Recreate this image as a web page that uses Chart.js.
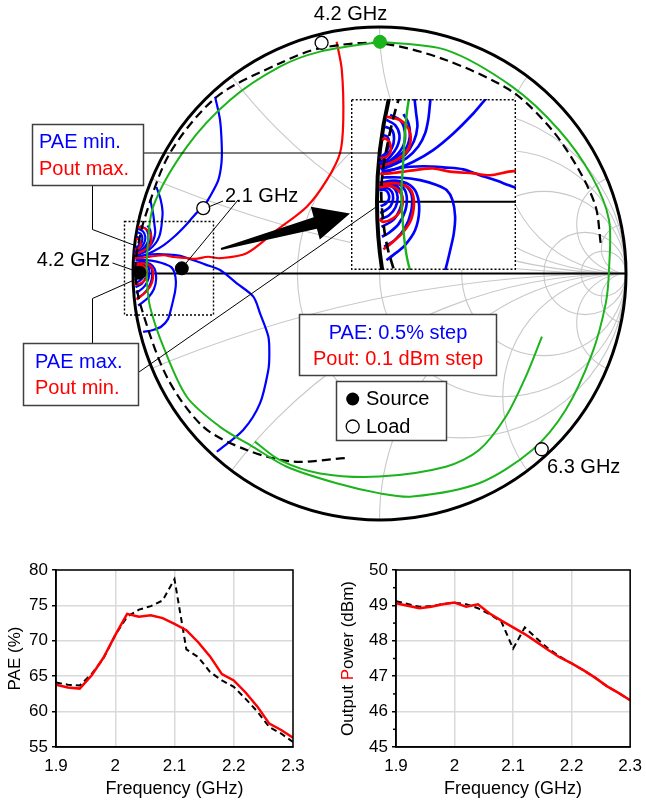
<!DOCTYPE html>
<html>
<head>
<meta charset="utf-8">
<title>Load-pull contours and frequency sweep</title>
<script src="https://cdn.jsdelivr.net/npm/chart.js@4.4.1/dist/chart.umd.min.js"></script>
<style>
  html, body { margin: 0; padding: 0; background: #fff; }
  #page { position: relative; width: 646px; height: 805px; overflow: hidden; }
  #page canvas { position: absolute; }
</style>
</head>
<body>
<div id="page">
  <canvas id="smithChart" width="646" height="540" style="left:0;top:0"></canvas>
  <canvas id="zoomChart" width="165" height="171" style="left:351px;top:99px"></canvas>
  <canvas id="paeChart" width="320" height="260" style="left:0;top:545px"></canvas>
  <canvas id="poutChart" width="326" height="260" style="left:320px;top:545px"></canvas>
</div>
<script>
// ── frequency sweeps (bottom plots) ──
const freqGHz   = [1.9, 1.92, 1.94, 1.96, 1.98, 2.0, 2.02, 2.04, 2.06, 2.08, 2.1, 2.12, 2.14, 2.16, 2.18, 2.2, 2.22, 2.24, 2.26, 2.28, 2.3];
const paeSolid  = [63.8, 63.4, 63.25, 65.1, 67.6, 70.8, 73.8, 73.4, 73.6, 73.2, 72.4, 71.5, 69.8, 67.8, 65.3, 64.4, 62.7, 60.7, 58.3, 57.4, 56.3];
const paeDashed = [64.1, 63.8, 63.7, 65.3, 67.5, 70.8, 73.4, 74.4, 74.9, 75.7, 78.7, 68.8, 67.7, 65.6, 64.4, 63.5, 61.8, 60.0, 57.8, 56.9, 55.7];
const poutSolid  = [49.06, 48.99, 48.92, 48.96, 49.03, 49.08, 48.96, 49.03, 48.77, 48.57, 48.38, 48.19, 47.97, 47.74, 47.53, 47.36, 47.17, 46.96, 46.72, 46.53, 46.32];
const poutDashed = [49.12, 49.04, 48.96, 48.98, 49.04, 49.08, 49.03, 48.92, 48.75, 48.54, 47.78, 48.38, 48.07, 47.78, 47.55, 47.36, 47.17, 46.96, 46.72, 46.53, 46.32];
const freqTicks = [1.9, 2.0, 2.1, 2.2, 2.3];
const paeTicks  = [55, 60, 65, 70, 75, 80];
const poutTicks = [45, 46, 47, 48, 49, 50];
const poutMinor = [45.5, 46.5, 47.5, 48.5, 49.5];

// ── Smith chart grid ──
const resistanceCircles = [0.5, 1, 2, 5, 10];
const reactanceArcs = [0.2, 0.5, 1, 2, 5, 10, -0.2, -0.5, -1, -2, -5, -10];

// ── trajectories, reflection coefficient [re, im] ──
const dashedTrajectory = [
  [0.897, 0.124], [0.877, 0.271], [0.809, 0.420], [0.700, 0.582], [0.538, 0.738], [0.269, 0.866],
  [0.002, 0.934], [-0.241, 0.914], [-0.404, 0.853], [-0.660, 0.717], [-0.850, 0.489], [-0.951, 0.230],
  [-0.985, 0.083], [-0.990, 0.0], [-0.972, -0.120], [-0.863, -0.419], [-0.716, -0.621], [-0.539, -0.716],
  [-0.351, -0.763], [-0.133, -0.748]
];
const greenLoop = [
  [0.002, 0.940], [0.269, 0.907], [0.538, 0.758], [0.728, 0.582], [0.862, 0.393], [0.931, 0.217],
  [0.931, 0.014], [0.918, -0.120], [0.863, -0.323], [0.755, -0.554], [0.620, -0.716], [0.404, -0.851],
  [0.133, -0.905], [0.002, -0.892], [-0.174, -0.851], [-0.376, -0.784], [-0.513, -0.703], [-0.647, -0.622],
  [-0.782, -0.500], [-0.877, -0.297], [-0.931, -0.135], [-0.944, -0.026], [-0.944, 0.055], [-0.918, 0.271],
  [-0.782, 0.514], [-0.606, 0.704], [-0.404, 0.839], [-0.241, 0.900], [0.002, 0.940]
];
const greenArc = [
  [-0.506, -0.682], [-0.404, -0.757], [-0.241, -0.811], [-0.002, -0.824], [0.269, -0.784],
  [0.404, -0.716], [0.512, -0.581], [0.593, -0.419], [0.659, -0.256]
];

// ── PAE contours (blue) ──
const paeUpper = [
  [[-0.905, 0.351], [-0.888, 0.300], [-0.880, 0.250], [-0.883, 0.208], [-0.886, 0.182], [-0.893, 0.152], [-0.908, 0.123], [-0.934, 0.097], [-0.964, 0.082], [-0.990, 0.071]],
  [[-0.930, 0.300], [-0.918, 0.240], [-0.913, 0.198], [-0.910, 0.167], [-0.918, 0.134], [-0.938, 0.104], [-0.967, 0.085], [-0.992, 0.072]],
  [[-0.941, 0.195], [-0.930, 0.175], [-0.927, 0.145], [-0.938, 0.115], [-0.964, 0.093], [-0.992, 0.074]],
  [[-0.971, 0.193], [-0.949, 0.182], [-0.938, 0.156], [-0.941, 0.126], [-0.960, 0.100], [-0.992, 0.077]],
  [[-0.979, 0.182], [-0.960, 0.171], [-0.950, 0.149], [-0.955, 0.123], [-0.971, 0.100], [-0.993, 0.079]],
  [[-0.982, 0.167], [-0.967, 0.160], [-0.962, 0.141], [-0.967, 0.119], [-0.982, 0.100], [-0.994, 0.084]],
  [[-0.986, 0.148], [-0.977, 0.145], [-0.973, 0.130], [-0.979, 0.111], [-0.993, 0.097]]
];
const paeFan = [
  [[-0.990, 0.067], [-0.956, 0.074], [-0.919, 0.089], [-0.875, 0.115], [-0.830, 0.152], [-0.785, 0.197], [-0.760, 0.226],
   [-0.738, 0.250], [-0.715, 0.270], [-0.688, 0.312], [-0.654, 0.379], [-0.641, 0.450], [-0.640, 0.520], [-0.647, 0.623], [-0.667, 0.717]],
  [[-0.990, 0.063], [-0.949, 0.075], [-0.897, 0.079], [-0.845, 0.076], [-0.808, 0.072], [-0.771, 0.059], [-0.734, 0.047], [-0.708, 0.037],
   [-0.647, 0.014], [-0.579, -0.040], [-0.512, -0.094], [-0.485, -0.161], [-0.451, -0.256], [-0.447, -0.330], [-0.451, -0.391],
   [-0.485, -0.527], [-0.553, -0.635], [-0.660, -0.723]],
  [[-0.990, 0.054], [-0.949, 0.054], [-0.904, 0.048], [-0.867, 0.037], [-0.845, 0.026], [-0.832, 0.004], [-0.826, -0.033],
   [-0.829, -0.071], [-0.837, -0.108], [-0.846, -0.145], [-0.858, -0.185], [-0.885, -0.215], [-0.919, -0.229], [-0.959, -0.237]]
];
const paeLower = [
  [[-0.995, 0.026], [-0.982, 0.026], [-0.975, 0.019], [-0.973, 0.007], [-0.980, -0.004], [-0.992, -0.010]],
  [[-0.995, 0.030], [-0.979, 0.031], [-0.967, 0.022], [-0.964, 0.007], [-0.970, -0.010], [-0.982, -0.020], [-0.993, -0.025]],
  [[-0.995, 0.033], [-0.975, 0.036], [-0.960, 0.028], [-0.954, 0.010], [-0.959, -0.013], [-0.973, -0.030], [-0.992, -0.039]],
  [[-0.995, 0.036], [-0.971, 0.039], [-0.953, 0.032], [-0.944, 0.011], [-0.949, -0.017], [-0.964, -0.041], [-0.990, -0.056]],
  [[-0.995, 0.038], [-0.967, 0.042], [-0.945, 0.035], [-0.934, 0.013], [-0.937, -0.020], [-0.952, -0.050], [-0.973, -0.069], [-0.989, -0.078]],
  [[-0.995, 0.040], [-0.964, 0.045], [-0.938, 0.037], [-0.923, 0.015], [-0.924, -0.022], [-0.938, -0.059], [-0.960, -0.085], [-0.984, -0.100]],
  [[-0.995, 0.042], [-0.960, 0.047], [-0.930, 0.039], [-0.912, 0.019], [-0.906, -0.019], [-0.915, -0.063], [-0.938, -0.097], [-0.964, -0.119], [-0.979, -0.130]]
];

// ── Pout contours (red) ──
const poutContours = [
  [[-0.979, 0.189], [-0.949, 0.182], [-0.930, 0.163], [-0.925, 0.137], [-0.934, 0.111], [-0.960, 0.091], [-0.993, 0.078]],
  [[-0.988, 0.138], [-0.982, 0.141], [-0.971, 0.130], [-0.970, 0.111], [-0.979, 0.100], [-0.992, 0.097]],
  [[-0.993, 0.062], [-0.971, 0.063], [-0.941, 0.067], [-0.912, 0.071], [-0.875, 0.074], [-0.837, 0.067], [-0.785, 0.063],
   [-0.748, 0.059], [-0.696, 0.068], [-0.647, 0.062], [-0.539, 0.082], [-0.417, 0.176], [-0.295, 0.271], [-0.214, 0.379],
   [-0.160, 0.489], [-0.147, 0.623], [-0.153, 0.826], [-0.174, 0.940]],
  [[-0.995, 0.032], [-0.971, 0.035], [-0.953, 0.026], [-0.943, 0.007], [-0.947, -0.019], [-0.964, -0.037], [-0.986, -0.045], [-0.995, -0.039]],
  [[-0.995, 0.039], [-0.956, 0.041], [-0.928, 0.030], [-0.918, 0.004], [-0.923, -0.037], [-0.941, -0.067], [-0.964, -0.089], [-0.986, -0.106]]
];

// ── source / load impedances ──
const sourcePoints = [[-0.974, 0.003], [-0.802, 0.021]];
const loadPoints = [[-0.235, 0.936], [-0.715, 0.265], [0.658, -0.713]];
const greenMarker = [[0.002, 0.940]];

// ─────────────────────────────────────────────
const FONT = "'Liberation Sans', Arial, Helvetica, sans-serif";
const BLUE = '#0000ff', RED = '#ff0000', GREEN = '#1cb41c';
Chart.defaults.font.family = FONT;
Chart.defaults.color = '#000';
Chart.defaults.animation = false;

const xy = pts => pts.map(p => ({ x: p[0], y: p[1] }));

function curve(points, color, width, dash) {
  return {
    data: xy(points), showLine: true, borderColor: color, borderWidth: width,
    borderDash: dash || [], pointRadius: 0, tension: 0.3, fill: false
  };
}

// datasets shared by the full chart and the magnified view; first one is drawn on top
function smithDatasets(scale, withMarkers) {
  const w = 2.2 * scale;
  const sets = [];
  if (withMarkers) {
    sets.push({ data: xy(sourcePoints), pointRadius: 6.5, pointBackgroundColor: '#000', pointBorderColor: '#000', pointBorderWidth: 1 });
    sets.push({ data: xy(loadPoints), pointRadius: 6.5, pointBackgroundColor: '#fff', pointBorderColor: '#000', pointBorderWidth: 1.3 });
    sets.push({ data: xy(greenMarker), pointRadius: 6.5, pointBackgroundColor: GREEN, pointBorderColor: GREEN, pointBorderWidth: 1 });
  }
  sets.push(curve(greenLoop, GREEN, 2 * scale));
  sets.push(curve(greenArc, GREEN, 2 * scale));
  sets.push(curve(dashedTrajectory, '#000', 2.2 * scale, [9 * scale, 5 * scale]));
  poutContours.forEach(c => sets.push(curve(c, RED, w)));
  paeFan.concat(paeUpper, paeLower).forEach(c => sets.push(curve(c, BLUE, w)));
  return sets;
}

// constant-resistance / reactance grid, unit circle and real axis
const smithGrid = {
  id: 'smithGrid',
  beforeDatasetsDraw(chart, args, opts) {
    const { ctx, scales: { x, y } } = chart;
    const ox = x.getPixelForValue(0), oy = y.getPixelForValue(0);
    const R = x.getPixelForValue(1) - ox;
    ctx.save();
    if (opts.grid) {
      ctx.save();
      ctx.beginPath();
      ctx.arc(ox, oy, R, 0, Math.PI * 2);
      ctx.clip();
      ctx.strokeStyle = '#c8c8c8';
      ctx.lineWidth = 1.1;
      resistanceCircles.forEach(r => {
        ctx.beginPath();
        ctx.arc(x.getPixelForValue(r / (1 + r)), oy, R / (1 + r), 0, Math.PI * 2);
        ctx.stroke();
      });
      reactanceArcs.forEach(v => {
        ctx.beginPath();
        ctx.arc(x.getPixelForValue(1), y.getPixelForValue(1 / v), R / Math.abs(v), 0, Math.PI * 2);
        ctx.stroke();
      });
      ctx.restore();
    }
    ctx.strokeStyle = '#000';
    ctx.lineWidth = opts.axisWidth;
    ctx.beginPath();
    ctx.moveTo(x.getPixelForValue(-1), oy);
    ctx.lineTo(x.getPixelForValue(1), oy);
    ctx.stroke();
    ctx.lineWidth = opts.rimWidth;
    ctx.beginPath();
    ctx.arc(ox, oy, R, 0, Math.PI * 2);
    ctx.stroke();
    ctx.restore();
  }
};

function polyline(ctx, pts) {
  ctx.beginPath();
  ctx.moveTo(pts[0][0], pts[0][1]);
  for (let i = 1; i < pts.length; i++) ctx.lineTo(pts[i][0], pts[i][1]);
  ctx.stroke();
}

function dottedRect(ctx, x, y, w, h) {
  ctx.save();
  ctx.strokeStyle = '#000';
  ctx.lineWidth = 1.4;
  ctx.setLineDash([2, 2]);
  ctx.strokeRect(x, y, w, h);
  ctx.restore();
}

function noteBox(ctx, x, y, w, h) {
  ctx.fillStyle = '#fff';
  ctx.fillRect(x, y, w, h);
  ctx.strokeStyle = '#404040';
  ctx.lineWidth = 1.5;
  ctx.strokeRect(x, y, w, h);
}

function label(ctx, text, x, y, color, align) {
  ctx.fillStyle = color;
  ctx.textAlign = align || 'left';
  ctx.fillText(text, x, y);
}

// callouts, labels and the zoom arrow
const smithNotes = {
  id: 'smithNotes',
  afterDraw(chart) {
    const ctx = chart.ctx;
    ctx.save();
    dottedRect(ctx, 124.5, 221.5, 89, 93.5);

    ctx.strokeStyle = '#000';
    ctx.lineWidth = 1;
    polyline(ctx, [[143.5, 153], [351, 153]]);
    polyline(ctx, [[92.5, 185], [92.5, 229.5], [137.5, 246.5]]);
    polyline(ctx, [[92.5, 343], [92.5, 298.5], [137.5, 278.5]]);
    polyline(ctx, [[139, 372], [351, 224.4]]);
    polyline(ctx, [[112.5, 263], [137, 271.5]]);
    polyline(ctx, [[208.5, 207], [223, 201]]);
    polyline(ctx, [[238, 200], [182, 268]]);

    // tapered arrow toward the magnified view
    const tail = [221, 249], tip = [350, 213.5];
    const dx = tip[0] - tail[0], dy = tip[1] - tail[1];
    const L = Math.hypot(dx, dy), ux = dx / L, uy = dy / L, nx = -uy, ny = ux;
    const bx = tip[0] - ux * 36, by = tip[1] - uy * 36;
    ctx.fillStyle = '#000';
    ctx.beginPath();
    ctx.moveTo(tail[0] + nx * 1, tail[1] + ny * 1);
    ctx.lineTo(bx + nx * 6, by + ny * 6);
    ctx.lineTo(bx + nx * 17, by + ny * 17);
    ctx.lineTo(tip[0], tip[1]);
    ctx.lineTo(bx - nx * 17, by - ny * 17);
    ctx.lineTo(bx - nx * 6, by - ny * 6);
    ctx.lineTo(tail[0] - nx * 1, tail[1] - ny * 1);
    ctx.closePath();
    ctx.fill();

    ctx.font = '20px ' + FONT;
    ctx.textBaseline = 'middle';
    label(ctx, '4.2 GHz', 350.5, 14.5, '#000', 'center');
    label(ctx, '2.1 GHz', 225, 196, '#000');
    label(ctx, '4.2 GHz', 110, 260, '#000', 'right');
    label(ctx, '6.3 GHz', 547, 467, '#000');

    noteBox(ctx, 32.5, 124.5, 111, 61);
    label(ctx, 'PAE min.', 39, 142, BLUE);
    label(ctx, 'Pout max.', 39, 169, RED);

    noteBox(ctx, 23.5, 343.5, 115, 62);
    label(ctx, 'PAE max.', 35, 362, BLUE);
    label(ctx, 'Pout min.', 35, 388, RED);

    noteBox(ctx, 299.5, 314.5, 197, 61);
    label(ctx, 'PAE: 0.5% step', 398, 333, BLUE, 'center');
    label(ctx, 'Pout: 0.1 dBm step', 398, 359, RED, 'center');

    noteBox(ctx, 336.5, 381.5, 110, 59);
    ctx.fillStyle = '#000';
    ctx.beginPath(); ctx.arc(352.7, 399, 6.5, 0, Math.PI * 2); ctx.fill();
    ctx.fillStyle = '#fff'; ctx.strokeStyle = '#000'; ctx.lineWidth = 1.3;
    ctx.beginPath(); ctx.arc(352.7, 426.5, 6.5, 0, Math.PI * 2); ctx.fill(); ctx.stroke();
    label(ctx, 'Source', 366, 399, '#000');
    label(ctx, 'Load', 366, 427, '#000');
    ctx.restore();
  }
};

// white background, frame and leader ends of the magnified view
const zoomFrame = {
  id: 'zoomFrame',
  beforeDraw(chart) {
    const ctx = chart.ctx;
    ctx.save();
    ctx.fillStyle = '#fff';
    ctx.fillRect(0, 0, chart.width, chart.height);
    ctx.restore();
  },
  afterDraw(chart) {
    const ctx = chart.ctx;
    ctx.save();
    ctx.strokeStyle = '#000';
    ctx.lineWidth = 1;
    polyline(ctx, [[0, 54], [28.6, 54]]);
    polyline(ctx, [[0, 125.4], [25, 108]]);
    dottedRect(ctx, 0.7, 0.7, chart.width - 1.4, chart.height - 1.4);
    ctx.restore();
  }
};

function smithOptions(xr, yr, gridOpts) {
  return {
    responsive: false, devicePixelRatio: 1, events: [],
    layout: { autoPadding: false, padding: 0 },
    plugins: { legend: { display: false }, tooltip: { enabled: false }, smithGrid: gridOpts },
    scales: {
      x: { type: 'linear', min: xr[0], max: xr[1], display: false },
      y: { type: 'linear', min: yr[0], max: yr[1], display: false }
    }
  };
}

new Chart(document.getElementById('smithChart'), {
  type: 'scatter',
  data: { datasets: smithDatasets(1, true) },
  options: smithOptions([-1.5396, 1.0811], [-1.0811, 1.1095], { grid: true, rimWidth: 3, axisWidth: 2 }),
  plugins: [smithGrid, smithNotes]
});

new Chart(document.getElementById('zoomChart'), {
  type: 'scatter',
  data: { datasets: smithDatasets(1.2, false) },
  options: smithOptions([-1.0579, -0.6904], [-0.1521, 0.2287], { grid: false, rimWidth: 4, axisWidth: 2 }),
  plugins: [smithGrid, zoomFrame]
});

// ── frequency-sweep plots ──
const plotFrame = {
  id: 'plotFrame',
  afterDraw(chart, args, opts) {
    const { ctx, chartArea: a, scales: { y } } = chart;
    ctx.save();
    ctx.strokeStyle = '#000';
    ctx.lineWidth = 1.5;
    ctx.strokeRect(a.left, a.top, a.right - a.left, a.bottom - a.top);
    (opts.minor || []).forEach(v => {
      const py = y.getPixelForValue(v);
      ctx.beginPath(); ctx.moveTo(a.left - 3, py); ctx.lineTo(a.left, py); ctx.stroke();
    });
    if (opts.title) {
      ctx.font = opts.title.size + 'px ' + FONT;
      const total = opts.title.parts.reduce((w, p) => w + ctx.measureText(p[0]).width, 0);
      ctx.translate(opts.title.x, (a.top + a.bottom) / 2);
      ctx.rotate(-Math.PI / 2);
      ctx.textBaseline = 'middle';
      ctx.textAlign = 'left';
      let cx = -total / 2;
      opts.title.parts.forEach(([t, c]) => { ctx.fillStyle = c; ctx.fillText(t, cx, 0); cx += ctx.measureText(t).width; });
    }
    ctx.restore();
  }
};

function sweepChart(id, solid, dashed, yTicks, yWidth, rightPad, frameOpts) {
  return new Chart(document.getElementById(id), {
    type: 'scatter',
    data: {
      datasets: [
        { data: freqGHz.map((f, i) => ({ x: f, y: solid[i] })), showLine: true, borderColor: RED, borderWidth: 2.5, pointRadius: 0 },
        { data: freqGHz.map((f, i) => ({ x: f, y: dashed[i] })), showLine: true, borderColor: '#000', borderWidth: 2, borderDash: [6, 4], pointRadius: 0 }
      ]
    },
    options: {
      responsive: false, devicePixelRatio: 1, events: [],
      layout: { autoPadding: false, padding: { left: 0, top: 25, right: rightPad, bottom: 0 } },
      plugins: { legend: { display: false }, tooltip: { enabled: false }, plotFrame: frameOpts },
      scales: {
        x: {
          type: 'linear', min: freqTicks[0], max: freqTicks[freqTicks.length - 1],
          afterBuildTicks: s => { s.ticks = freqTicks.map(v => ({ value: v })); },
          ticks: { font: { size: 17 }, padding: 4, maxRotation: 0, callback: v => String(Math.round(v * 10) / 10) },
          grid: { color: '#d9d9d9', lineWidth: 1.5, tickLength: 5, tickColor: 'rgba(0,0,0,0)' },
          border: { color: '#000', width: 1.5 },
          title: { display: true, text: 'Frequency (GHz)', font: { size: 18 }, padding: { top: 0, bottom: 5 } },
          afterFit: s => { s.height = 58; }
        },
        y: {
          type: 'linear', min: yTicks[0], max: yTicks[yTicks.length - 1],
          afterBuildTicks: s => { s.ticks = yTicks.map(v => ({ value: v })); },
          ticks: { font: { size: 17 }, padding: 4 },
          grid: { color: '#d9d9d9', lineWidth: 1.5, tickLength: 4, tickColor: '#000' },
          border: { color: '#000', width: 1.5 },
          afterFit: s => { s.width = yWidth; }
        }
      }
    },
    plugins: [plotFrame]
  });
}

sweepChart('paeChart', paeSolid, paeDashed, paeTicks, 56, 27,
  { title: { x: 15, size: 17, parts: [['PAE (%)', '#000']] } });
sweepChart('poutChart', poutSolid, poutDashed, poutTicks, 76, 13,
  { minor: poutMinor, title: { x: 28, size: 17, parts: [['Output ', '#000'], ['P', RED], ['ower (dBm)', '#000']] } });
</script>
</body>
</html>
